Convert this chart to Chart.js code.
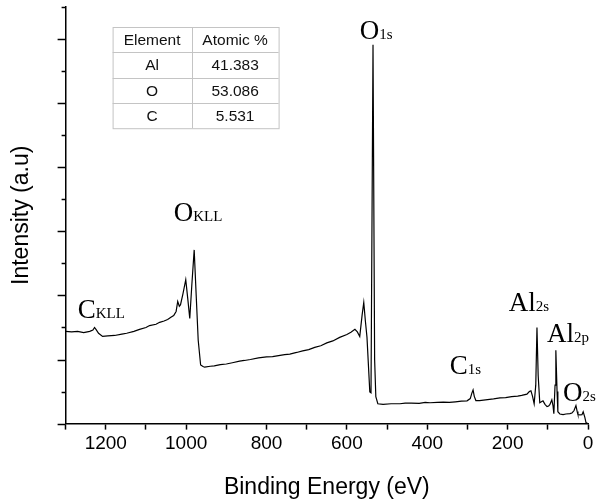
<!DOCTYPE html>
<html>
<head>
<meta charset="utf-8">
<script src="https://cdn.jsdelivr.net/npm/chart.js@4/dist/chart.umd.min.js"></script>
<style>
  html, body { margin: 0; padding: 0; background: #fff; }
  #wrap { width: 600px; height: 501px; }
</style>
</head>
<body>
<div id="wrap"><canvas id="xps"></canvas></div>
<script>
// survey spectrum (binding energy in eV, intensity in arb. units)
const bindingEnergy = [
  1300, 1285, 1270, 1255, 1240, 1232, 1228, 1224, 1218, 1208, 1195, 1178, 1160, 1148, 1130,
  1116, 1100, 1091, 1075, 1066, 1055, 1046, 1038, 1031, 1025, 1021, 1017, 1014, 1008, 1001,
  996, 991, 986, 980, 975, 970, 964, 958, 954, 940, 930, 915, 900, 885, 867, 855, 840, 820,
  800, 785, 770, 755, 742, 725, 710, 695, 680, 665, 650, 635, 618, 600, 590, 580, 574, 568,
  562, 558, 554, 550, 543, 540, 535, 531, 528, 523, 510, 490, 468, 455, 440, 420, 405, 393,
  375, 360, 345, 330, 315, 301, 293, 289, 286, 283, 279, 270, 250, 235, 219, 205, 190, 175,
  165, 152, 146, 142, 138, 134, 130, 127, 124, 120, 116, 112, 107, 102, 98, 95, 90, 87, 85,
  82, 80, 77, 75, 70, 62, 55, 45, 40, 35, 30, 27, 25, 20, 15, 12, 8, 5, 0
];
const intensity = [
  2.88, 2.86, 2.88, 2.84, 2.88, 2.92, 3.00, 2.93, 2.82, 2.72, 2.74, 2.75, 2.79, 2.82, 2.88,
  2.94, 3.00, 3.06, 3.10, 3.16, 3.20, 3.25, 3.32, 3.37, 3.50, 3.81, 3.66, 3.71, 4.05, 4.49,
  3.90, 3.28, 4.30, 5.42, 4.00, 2.60, 1.83, 1.78, 1.76, 1.79, 1.80, 1.84, 1.86, 1.90, 1.95,
  1.97, 2.00, 2.05, 2.08, 2.09, 2.12, 2.15, 2.17, 2.22, 2.27, 2.31, 2.38, 2.43, 2.52, 2.58,
  2.69, 2.78, 2.85, 2.94, 2.86, 2.72, 3.40, 3.78, 3.20, 2.69, 0.99, 0.96, 11.82, 2.00, 0.84,
  0.62, 0.60, 0.62, 0.62, 0.64, 0.64, 0.63, 0.66, 0.65, 0.66, 0.67, 0.66, 0.68, 0.70, 0.71,
  0.78, 0.95, 1.05, 0.85, 0.72, 0.72, 0.75, 0.77, 0.80, 0.81, 0.84, 0.86, 0.88, 0.92, 1.00,
  1.02, 0.85, 0.62, 1.20, 3.00, 1.50, 0.65, 0.68, 0.71, 0.60, 0.53, 0.55, 0.59, 0.74, 0.55,
  0.31, 1.20, 2.29, 1.00, 0.37, 0.30, 0.28, 0.30, 0.31, 0.33, 0.40, 0.56, 0.38, 0.28, 0.27,
  0.28, 0.37, 0.20, 0.03, 0.00
];

// peak labels: main letter(s), subscript, anchor (eV, intensity) of the text baseline start
const peakMain = ['O', 'O', 'C', 'C', 'Al', 'Al', 'O'];
const peakSub = ['1s', 'KLL', 'KLL', '1s', '2s', '2p', '2s'];
const peakAtEnergy = [568, 1031, 1270, 344, 197, 102, 62];
const peakAtIntensity = [12.0, 6.31, 3.31, 1.55, 3.50, 2.54, 0.71];

// inset table
const tableHead = ['Element', 'Atomic %'];
const elements = ['Al', 'O', 'C'];
const atomicPct = ['41.383', '53.086', '5.531'];

const sans = "'Liberation Sans', Arial, sans-serif";
const serif = "'Liberation Serif', 'Times New Roman', serif";

const yTickMarks = {
  id: 'yTickMarks',
  afterDraw(chart) {
    const {ctx, scales: {y}} = chart;
    ctx.save();
    ctx.strokeStyle = '#000';
    ctx.lineWidth = 1.5;
    y.ticks.forEach(t => {
      const py = Math.round(y.getPixelForValue(t.value)) + 0.5;
      const len = t.value % 2 === 0 ? 8 : 4;
      ctx.beginPath();
      ctx.moveTo(y.right - len, py);
      ctx.lineTo(y.right, py);
      ctx.stroke();
    });
    ctx.restore();
  }
};

const peakLabels = {
  id: 'peakLabels',
  afterDatasetsDraw(chart) {
    const {ctx, scales: {x, y}} = chart;
    ctx.save();
    ctx.fillStyle = '#000';
    ctx.textBaseline = 'alphabetic';
    ctx.textAlign = 'left';
    peakMain.forEach((m, i) => {
      const px = x.getPixelForValue(peakAtEnergy[i]);
      const py = y.getPixelForValue(peakAtIntensity[i]);
      ctx.font = '27px ' + serif;
      ctx.fillText(m, px, py);
      const w = ctx.measureText(m).width;
      ctx.font = '15px ' + serif;
      ctx.fillText(peakSub[i], px + w, py);
    });
    ctx.restore();
  }
};

const insetTable = {
  id: 'insetTable',
  afterDraw(chart) {
    const {ctx, chartArea} = chart;
    const left = chartArea.left + 47, top = 27;
    const colW = [79, 87], rowH = 25.3;
    const rows = [tableHead].concat(elements.map((e, i) => [e, atomicPct[i]]));
    const totalW = colW[0] + colW[1], totalH = rowH * rows.length;
    ctx.save();
    ctx.fillStyle = '#fff';
    ctx.fillRect(left, top, totalW, totalH);
    ctx.strokeStyle = '#c4c4c4';
    ctx.lineWidth = 1;
    ctx.strokeRect(left + 0.5, top + 0.5, totalW, totalH);
    for (let r = 1; r < rows.length; r++) {
      const yy = Math.round(top + r * rowH) + 0.5;
      ctx.beginPath(); ctx.moveTo(left, yy); ctx.lineTo(left + totalW, yy); ctx.stroke();
    }
    const cx = Math.round(left + colW[0]) + 0.5;
    ctx.beginPath(); ctx.moveTo(cx, top); ctx.lineTo(cx, top + totalH); ctx.stroke();
    ctx.fillStyle = '#111';
    ctx.font = '15.5px ' + sans;
    ctx.textAlign = 'center';
    ctx.textBaseline = 'middle';
    rows.forEach((row, r) => {
      const yy = top + r * rowH + rowH / 2 + 1;
      ctx.fillText(row[0], left + colW[0] / 2, yy);
      ctx.fillText(row[1], left + colW[0] + colW[1] / 2, yy);
    });
    ctx.restore();
  }
};

new Chart(document.getElementById('xps'), {
  type: 'line',
  data: {
    datasets: [{
      data: bindingEnergy.map((e, i) => ({x: e, y: intensity[i]})),
      borderColor: '#000',
      borderWidth: 1.2,
      pointRadius: 0,
      tension: 0,
      fill: false
    }]
  },
  options: {
    responsive: true,
    maintainAspectRatio: false,
    animation: false,
    layout: { padding: { top: 7, right: 12, left: 0, bottom: 0 } },
    plugins: { legend: { display: false }, tooltip: { enabled: false } },
    scales: {
      x: {
        type: 'linear',
        reverse: true,
        min: 0,
        max: 1300,
        border: { display: true, color: '#000', width: 1.5 },
        grid: { drawOnChartArea: false, drawTicks: true, tickLength: 6, tickColor: '#000', tickWidth: 1.5 },
        ticks: {
          stepSize: 100,
          autoSkip: false,
          maxRotation: 0,
          padding: 3,
          color: '#000',
          font: { family: sans, size: 19 },
          callback: v => (v % 200 === 0 ? String(v) : '')
        },
        title: {
          display: true,
          text: 'Binding Energy (eV)',
          color: '#000',
          font: { family: sans, size: 23 },
          padding: { top: 15, bottom: 0 }
        }
      },
      y: {
        min: 0,
        max: 13,
        border: { display: true, color: '#000', width: 1.5 },
        grid: { drawOnChartArea: false, drawTicks: false },
        ticks: { display: false, stepSize: 1 },
        title: {
          display: true,
          text: 'Intensity (a.u)',
          color: '#000',
          font: { family: sans, size: 23 },
          padding: { top: 8, bottom: 30 }
        }
      }
    }
  },
  plugins: [yTickMarks, peakLabels, insetTable]
});
</script>
</body>
</html>
